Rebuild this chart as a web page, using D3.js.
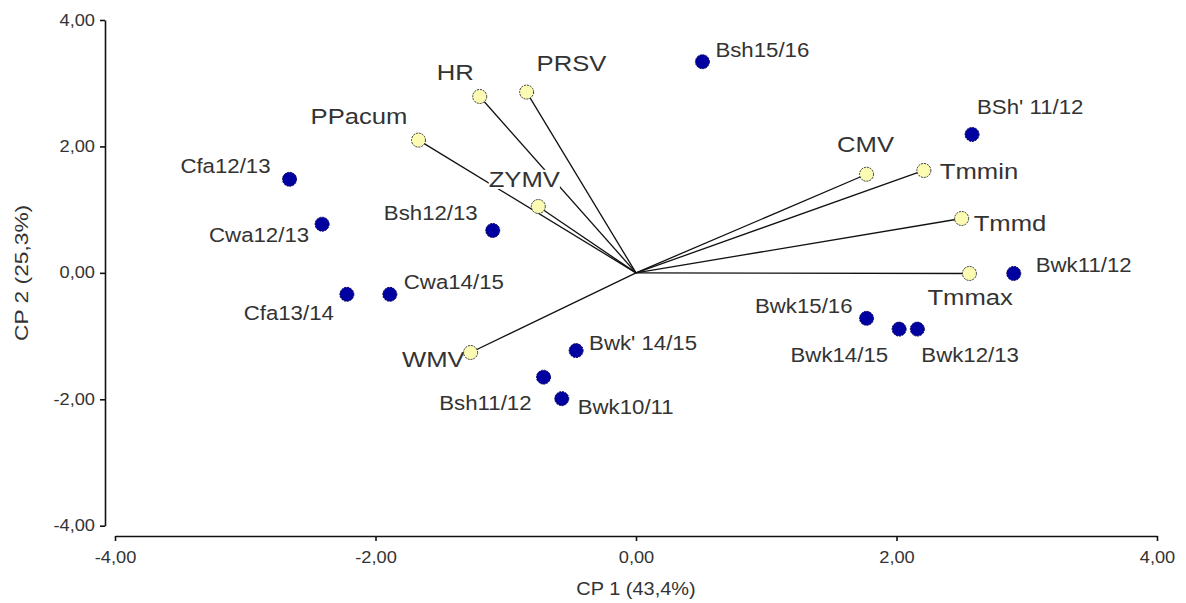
<!DOCTYPE html>
<html>
<head>
<meta charset="utf-8">
<script src="https://cdn.jsdelivr.net/npm/d3@7"></script>
<style>
  body { margin: 0; background: #fff; }
  svg text { font-family: Arial, "Liberation Sans", sans-serif; }
  .axis path, .axis line { stroke: #111; stroke-width: 1.6; }
  .axis text { font-size: 16px; fill: #333; }
  .site-label { font-size: 19.5px; fill: #333; }
  .var-label { font-size: 22.5px; fill: #333; }
  .axis-title { font-size: 17.5px; fill: #333; }
</style>
</head>
<body>
<svg id="chart"></svg>
<script>
// Sites (scores) - blue points
const siteNames = ['Bsh15/16', "BSh' 11/12", 'Cfa12/13', 'Cwa12/13', 'Bsh12/13', 'Cfa13/14', 'Cwa14/15',
  "Bwk' 14/15", 'Bsh11/12', 'Bwk10/11', 'Bwk15/16', 'Bwk14/15', 'Bwk12/13', 'Bwk11/12'];
const siteX = [0.51, 2.58, -2.66, -2.41, -1.10, -2.22, -1.89, -0.46, -0.71, -0.57, 1.77, 2.02, 2.16, 2.90];
const siteY = [3.34, 2.19, 1.48, 0.77, 0.67, -0.34, -0.34, -1.23, -1.65, -1.99, -0.72, -0.89, -0.89, -0.01];

// Variables (loadings) - yellow points joined to origin
const varNames = ['HR', 'PRSV', 'PPacum', 'ZYMV', 'CMV', 'Tmmin', 'Tmmd', 'Tmmax', 'WMV'];
const varX = [-1.20, -0.84, -1.67, -0.75, 1.77, 2.21, 2.50, 2.56, -1.27];
const varY = [2.79, 2.86, 2.10, 1.05, 1.56, 1.62, 0.86, -0.01, -1.26];

const tickValues = [-4, -2, 0, 2, 4];
const xTitle = 'CP 1 (43,4%)';
const yTitle = 'CP 2 (25,3%)';

// label placement: [text-anchor, dx, dy] relative to the point
const siteLabelPos = {
  'Bsh15/16': ['start', 13, -12], "BSh' 11/12": ['start', 5, -27], 'Cfa12/13': ['end', -19, -13],
  'Cwa12/13': ['end', -13, 11], 'Bsh12/13': ['end', -15, -17], 'Cfa13/14': ['end', -13, 19],
  'Cwa14/15': ['start', 14, -12], "Bwk' 14/15": ['start', 13, -7], 'Bsh11/12': ['end', -12, 26],
  'Bwk10/11': ['start', 16, 9], 'Bwk15/16': ['end', -14, -12], 'Bwk14/15': ['end', -11, 26],
  'Bwk12/13': ['start', 4, 26], 'Bwk11/12': ['start', 22, -8]
};
const varLabelPos = {
  'HR': ['end', -6, -24], 'PRSV': ['start', 10, -29], 'PPacum': ['end', -11, -24],
  'ZYMV': ['middle', -14, -27], 'CMV': ['middle', -1, -30], 'Tmmin': ['start', 16, 1],
  'Tmmd': ['start', 12, 5], 'Tmmax': ['start', -42, 24], 'WMV': ['end', -6, 7]
};

// the original picture is stretched horizontally, so its text is wider than normal
const stretch = 1.14;

const width = 1186, height = 603;
const svg = d3.select('#chart').attr('width', width).attr('height', height);

const xScale = d3.scaleLinear().domain([-4, 4]).range([115, 1157]);
const yScale = d3.scaleLinear().domain([-4, 4]).range([525.7, 20]);

const locale = d3.formatLocale({decimal: ',', thousands: '.', grouping: [3], currency: ['', ''], minus: '-'});
const fmt = locale.format('.2f');

// Axes (offset from plotting area, as in the original)
const yAxis = d3.axisLeft(yScale).tickValues(tickValues).tickFormat(fmt)
    .tickSize(5).tickSizeOuter(0).tickPadding(5);
const xAxis = d3.axisBottom(xScale).tickValues(tickValues).tickFormat(fmt)
    .tickSize(5).tickSizeOuter(0).tickPadding(11);

const yAxisG = svg.append('g')
    .attr('class', 'axis y-axis')
    .attr('transform', 'translate(105,0)')
    .call(yAxis);

const xAxisG = svg.append('g')
    .attr('class', 'axis x-axis')
    .attr('transform', 'translate(0,536)')
    .call(xAxis);

svg.selectAll('.axis').attr('font-family', null).attr('font-size', null);
yAxisG.selectAll('text')
    .attr('x', -10 / stretch)
    .attr('transform', `scale(${stretch},1)`);
xAxisG.selectAll('text')
    .attr('transform', `scale(${stretch},1)`);

svg.append('text')
    .attr('class', 'axis-title')
    .attr('transform', `translate(${xScale(0)},589) scale(${stretch},1)`)
    .attr('dy', '0.35em')
    .attr('text-anchor', 'middle')
    .text(xTitle);

svg.append('text')
    .attr('class', 'axis-title')
    .attr('transform', `translate(22,${yScale(0)}) rotate(-90) scale(1.3,1)`)
    .attr('dy', '0.35em')
    .attr('text-anchor', 'middle')
    .text(yTitle);

const vars = varNames.map((d, i) => ({name: d, x: varX[i], y: varY[i]}));
const sites = siteNames.map((d, i) => ({name: d, x: siteX[i], y: siteY[i]}));

// Vectors from the origin
svg.append('g').selectAll('line')
    .data(vars)
  .join('line')
    .attr('x1', xScale(0))
    .attr('y1', yScale(0))
    .attr('x2', d => xScale(d.x))
    .attr('y2', d => yScale(d.y))
    .attr('stroke', '#111')
    .attr('stroke-width', 1.3);

// Variable labels with white background (covers the lines, like ZYMV)
const varLabels = svg.append('g').selectAll('g')
    .data(vars)
  .join('g')
    .attr('transform', d => `translate(${xScale(d.x) + varLabelPos[d.name][1]},${yScale(d.y) + varLabelPos[d.name][2]}) scale(${stretch},1)`);

varLabels.append('text')
    .attr('class', 'var-label')
    .attr('dy', '0.35em')
    .attr('text-anchor', d => varLabelPos[d.name][0])
    .text(d => d.name);

varLabels.each(function() {
  const g = d3.select(this);
  const bb = g.select('text').node().getBBox();
  g.insert('rect', 'text')
      .attr('x', bb.x)
      .attr('y', bb.y + 3)
      .attr('width', bb.width)
      .attr('height', bb.height - 6)
      .attr('fill', '#fff');
});

// Variable points
svg.append('g').selectAll('circle')
    .data(vars)
  .join('circle')
    .attr('cx', d => xScale(d.x))
    .attr('cy', d => yScale(d.y))
    .attr('r', 7)
    .attr('fill', '#fbfbb4')
    .attr('stroke', '#333')
    .attr('stroke-width', 1)
    .attr('stroke-dasharray', '2,1');

// Site points
svg.append('g').selectAll('circle')
    .data(sites)
  .join('circle')
    .attr('cx', d => xScale(d.x))
    .attr('cy', d => yScale(d.y))
    .attr('r', 7)
    .attr('fill', '#0000a0')
    .attr('stroke', '#000060')
    .attr('stroke-width', 1)
    .attr('stroke-dasharray', '2,1');

svg.append('g').selectAll('text')
    .data(sites)
  .join('text')
    .attr('class', 'site-label')
    .attr('transform', d => `translate(${xScale(d.x) + siteLabelPos[d.name][1]},${yScale(d.y) + siteLabelPos[d.name][2]}) scale(${stretch},1)`)
    .attr('dy', '0.35em')
    .attr('text-anchor', d => siteLabelPos[d.name][0])
    .text(d => d.name);
</script>
</body>
</html>
